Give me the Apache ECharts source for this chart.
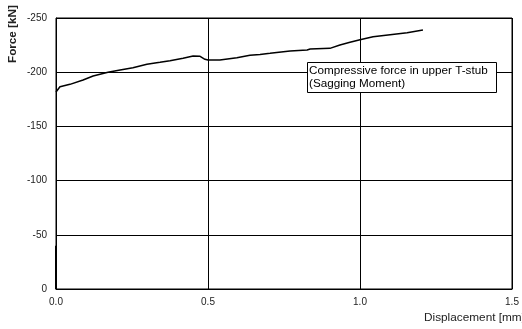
<!DOCTYPE html>
<html>
<head>
<meta charset="utf-8">
<script src="https://cdn.jsdelivr.net/npm/echarts@6/dist/echarts.min.js"></script>
<style>
  html, body { margin: 0; padding: 0; background: #fff; }
  #chart { width: 522px; height: 329px; }
</style>
</head>
<body>
<div id="chart"></div>
<script>
// Displacement [mm] and compressive force [kN] of the upper T-stub
const displacement = [0, 0.013, 0.046, 0.089, 0.122, 0.171, 0.211, 0.253, 0.299, 0.342,
  0.375, 0.418, 0.451, 0.474, 0.490, 0.5, 0.539, 0.595, 0.638, 0.671, 0.704, 0.770,
  0.826, 0.836, 0.901, 0.934, 0.967, 1.0, 1.043, 1.099, 1.155, 1.207];
const force = [-181.7, -186.6, -188.8, -192.8, -196.5, -199.9, -202, -204.2, -207.3, -209.1,
  -210.6, -212.8, -214.9, -214.6, -211.9, -211.3, -211.3, -213.4, -215.6, -216.4, -217.4, -219.6,
  -220.5, -221.4, -222.0, -225.1, -227.6, -229.9, -232.7, -234.6, -236.4, -238.9];

// Initial loading branch at zero displacement
const initialDisp = [0, 0];
const initialForce = [0, -40];

const xTicks = ['0.0', '0.5', '1.0', '1.5'];
const yTicks = ['-250', '-200', '-150', '-100', '-50', '0'];

const font = '"Liberation Sans", Arial, sans-serif';
const chart = echarts.init(document.getElementById('chart'));

chart.setOption({
  animation: false,
  backgroundColor: '#fff',
  grid: { left: 56, right: 10, top: 18, bottom: 40, show: true, borderColor: '#000', borderWidth: 1 },
  xAxis: {
    type: 'value', min: 0, max: 1.5, interval: 0.5,
    axisLine: { show: true, lineStyle: { color: '#000', width: 1 } },
    axisTick: { show: false },
    axisLabel: { color: '#222', fontFamily: font, fontSize: 10, margin: 8,
      formatter: v => xTicks[Math.round(v / 0.5)] },
    splitLine: { show: true, lineStyle: { color: '#000', width: 1 } }
  },
  yAxis: {
    type: 'value', min: -250, max: 0, interval: 50, inverse: true,
    axisLine: { show: true, lineStyle: { color: '#000', width: 1 } },
    axisTick: { show: false },
    axisLabel: { color: '#222', fontFamily: font, fontSize: 10, margin: 9,
      formatter: v => yTicks[Math.round((v + 250) / 50)] },
    splitLine: { show: true, lineStyle: { color: '#000', width: 1 } }
  },
  title: {
    text: 'Compressive force in upper T-stub\n(Sagging Moment)',
    left: 307, top: 62,
    padding: [2, 9, 3, 2],
    backgroundColor: '#fff', borderColor: '#000', borderWidth: 1,
    textStyle: { fontFamily: font, fontSize: 11.7, fontWeight: 'normal', color: '#000', lineHeight: 13 },
    z: 10
  },
  graphic: [
    { type: 'text', x: 424, y: 312, style: { text: 'Displacement [mm]', font: '11.8px ' + font, fill: '#222' } },
    { type: 'text', x: 7, y: 63, rotation: Math.PI / 2,
      style: { text: 'Force [kN]', font: 'bold 11.7px ' + font, fill: '#222', textAlign: 'left', textVerticalAlign: 'top' } }
  ],
  series: [
    { type: 'line', data: displacement.map((d, i) => [d, force[i]]), showSymbol: false,
      lineStyle: { color: '#000', width: 1.5 }, z: 5 },
    { type: 'line', data: initialDisp.map((d, i) => [d, initialForce[i]]), showSymbol: false,
      lineStyle: { color: '#000', width: 2 }, z: 5 }
  ]
});
</script>
</body>
</html>
